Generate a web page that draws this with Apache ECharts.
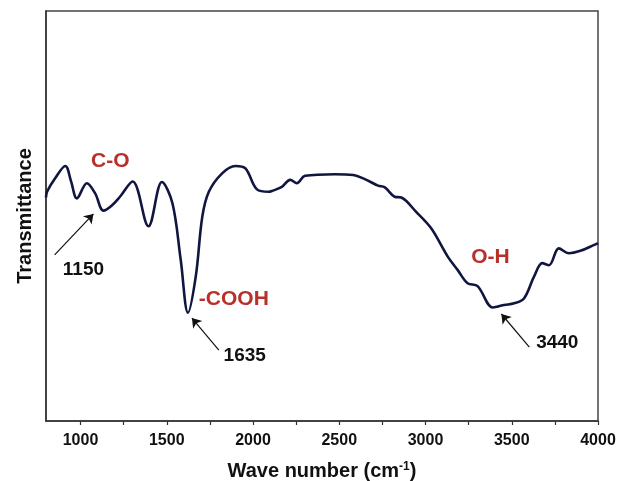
<!DOCTYPE html>
<html>
<head>
<meta charset="utf-8">
<script src="https://cdn.jsdelivr.net/npm/echarts@6/dist/echarts.min.js"></script>
<style>
  html, body { margin: 0; padding: 0; background: #fff; }
  #chart { width: 619px; height: 481px; }
</style>
</head>
<body>
<div id="chart"></div>
<script>
// Espectro FTIR (número de onda, transmitancia relativa)
var wavenumbers = [800, 806, 850, 912, 945, 979, 1037, 1085, 1133, 1180, 1229, 1302, 1394, 1472,
    1533, 1581, 1623, 1668, 1706, 1744, 1821, 1898, 1956, 2023, 2091, 2110, 2167, 2216, 2254, 2302,
    2475, 2581, 2648, 2725, 2764, 2821, 2860, 2946, 3033, 3129, 3187, 3244, 3302, 3389, 3417, 3456,
    3514, 3571, 3629, 3677, 3716, 3773, 3831, 3898, 3975, 4000];
var transmittance = [54.5, 55.9, 59.0, 62.2, 58.5, 54.3, 58.0, 55.5, 51.3, 52.5, 54.7, 58.4, 47.5, 58.3,
    53.1, 39.3, 26.4, 35.2, 49.8, 55.9, 60.4, 62.2, 61.6, 56.5, 55.9, 56.1, 57.1, 58.8, 58.0, 59.8,
    60.2, 60.0, 59.0, 57.4, 57.0, 54.7, 54.5, 51.0, 47.0, 40.1, 36.8, 33.6, 32.9, 27.7, 27.9, 28.3,
    28.7, 29.9, 35.2, 38.5, 38.0, 42.1, 40.9, 41.5, 42.9, 43.4];

var tickLabels = [1000, 1500, 2000, 2500, 3000, 3500, 4000];
var tickMarks = [1000, 1250, 1500, 1750, 2000, 2250, 2500, 2750, 3000, 3250, 3500, 3750, 4000];

// Anotaciones: texto, posición (datos) y color
var labelTexts = ['C-O', '1150', '-COOH', '1635', 'O-H', '3440'];
var labelCoords = [[1173, 63.4], [1017, 36.8], [1889, 29.8], [1952, 15.9], [3377, 40.0], [3764, 19.0]];
var labelColors = ['#b8302a', '#111', '#b8302a', '#111', '#b8302a', '#111'];

// Flechas: desde (cola) hasta (punta)
var arrowFrom = [[850, 40.5], [1802, 17.3], [3602, 18.0]];
var arrowTo = [[1075, 50.5], [1646, 25.1], [3440, 26.1]];

var chart = echarts.init(document.getElementById('chart'));

var lineData = wavenumbers.map(function (w, i) { return [w, transmittance[i]]; });

var option = {
    backgroundColor: '#fff',
    animation: false,
    grid: {
        left: 46, right: 21, top: 11, bottom: 60,
        outerBoundsMode: 'none',
        containLabel: false,
        show: true, borderColor: '#444', borderWidth: 1.5
    },
    xAxis: {
        type: 'value',
        min: 800,
        max: 4000,
        name: '{t|Wave number (cm}{s|-1}{t|)}',
        nameLocation: 'middle',
        nameGap: 40,
        nameTextStyle: {
            rich: {
                t: { fontFamily: 'Liberation Sans', fontWeight: 'bold', fontSize: 20, color: '#111' },
                s: { fontFamily: 'Liberation Sans', fontWeight: 'bold', fontSize: 12, color: '#111', verticalAlign: 'top', padding: [0, 0, 9, 0] }
            }
        },
        splitLine: { show: false },
        axisLine: { lineStyle: { color: '#333', width: 1.5 } },
        axisTick: { show: true, inside: false, length: 4, customValues: tickMarks, lineStyle: { color: '#333', width: 1.2 } },
        axisLabel: {
            customValues: tickLabels,
            formatter: function (v) { return String(v); },
            fontFamily: 'Liberation Sans', fontWeight: 'bold', fontSize: 16, color: '#111', margin: 12
        }
    },
    yAxis: {
        type: 'value',
        min: 0,
        max: 100,
        name: 'Transmittance',
        nameLocation: 'middle',
        nameGap: 11,
        nameRotate: 90,
        nameTextStyle: { fontFamily: 'Liberation Sans', fontWeight: 'bold', fontSize: 20, color: '#111' },
        splitLine: { show: false },
        axisLine: { show: true, lineStyle: { color: '#333', width: 1.5 } },
        axisTick: { show: false },
        axisLabel: { show: false }
    },
    series: [{
        type: 'line',
        data: lineData,
        smooth: 0.35,
        showSymbol: false,
        lineStyle: { color: '#10163f', width: 2.6 },
        markPoint: {
            symbol: 'circle',
            symbolSize: 0,
            data: labelTexts.map(function (t, i) {
                return {
                    coord: labelCoords[i],
                    label: {
                        show: true,
                        position: 'inside',
                        formatter: t,
                        fontFamily: 'Liberation Sans',
                        fontWeight: 'bold',
                        fontSize: i % 2 === 0 ? 21 : 19,
                        color: labelColors[i]
                    }
                };
            })
        },
        markLine: {
            silent: true,
            symbol: ['none', 'arrow'],
            symbolSize: 9,
            label: { show: false },
            lineStyle: { color: '#111', width: 1.2, type: 'solid' },
            data: arrowFrom.map(function (p, i) {
                return [{ coord: p }, { coord: arrowTo[i] }];
            })
        }
    }]
};

chart.setOption(option);
</script>
</body>
</html>
